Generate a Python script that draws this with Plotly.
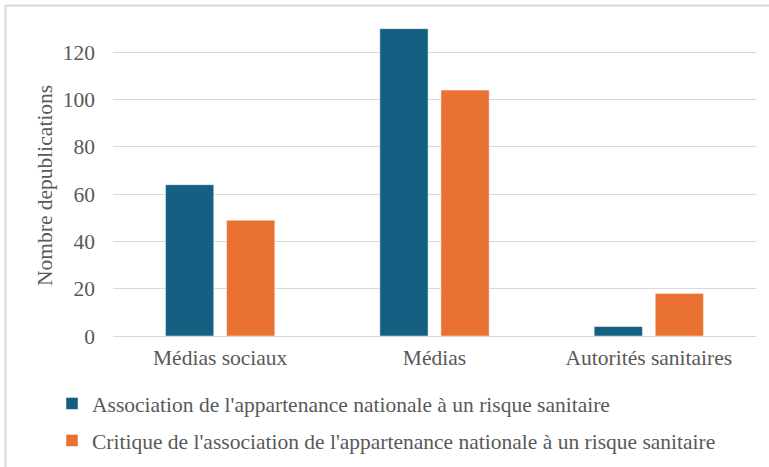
import plotly.graph_objects as go

categories = ["Médias sociaux", "Médias", "Autorités sanitaires"]
series_names = [
    "Association de l'appartenance nationale à un risque sanitaire",
    "Critique de l'association de l'appartenance nationale à un risque sanitaire",
]
assoc_values = [64, 130, 4]
critique_values = [49, 104, 18]
y_ticks = [0, 20, 40, 60, 80, 100, 120]
y_title = "Nombre depublications"

colors = ["#156082", "#E97132"]
font_family = "Liberation Serif, serif"
text_color = "#595959"
fs = 21.5

fig = go.Figure()
for i, (name, vals, col) in enumerate(zip(series_names, [assoc_values, critique_values], colors)):
    fig.add_trace(go.Bar(
        x=categories, y=vals, name=name, legendgroup=f"g{i}",
        marker=dict(color=col, line=dict(color="rgba(255,255,255,0.6)", width=0.8)),
    ))

W, H = 769, 467
L, R, T, B = 113, 13, 5, 131
pw, ph = W - L - R, H - T - B

def px_to_paper(x, y):
    return (x - L) / pw, (H - B - y) / ph

x0, y0 = px_to_paper(5.5, 5.5)
x1, y1 = px_to_paper(790, 490)
tx, ty = px_to_paper(45, 186)

fig.update_layout(
    width=W, height=H,
    margin=dict(l=L, r=R, t=T, b=B, autoexpand=False),
    paper_bgcolor="white", plot_bgcolor="white",
    font=dict(family=font_family, color=text_color, size=fs),
    barmode="group", bargap=0.43, bargroupgap=0.21,
    showlegend=True,
    legend=dict(
        orientation="v", xref="container", yref="container",
        x=52 / W, y=1 - 383 / H,
        xanchor="left", yanchor="top",
        font=dict(family=font_family, size=fs, color=text_color),
        itemwidth=30, tracegroupgap=6, bgcolor="rgba(0,0,0,0)",
    ),
    xaxis=dict(
        automargin=False,
        showgrid=False, showline=True, linecolor="#D9D9D9", linewidth=1,
        tickfont=dict(size=fs, color=text_color, family=font_family), ticks="", ticklabelstandoff=2,
    ),
    yaxis=dict(
        automargin=False,
        range=[0, 140], tickvals=y_ticks, showgrid=True, gridcolor="#D9D9D9", gridwidth=1,
        zeroline=False, showline=False, ticks="",
        tickfont=dict(size=fs, color=text_color, family=font_family), ticklabelstandoff=17,
    ),
    annotations=[dict(text=y_title, xref="paper", yref="paper", x=tx, y=ty,
                      xanchor="center", yanchor="middle", textangle=-90, showarrow=False,
                      font=dict(size=fs, color=text_color, family=font_family))],
    shapes=[dict(type="rect", xref="paper", yref="paper", x0=x0, y0=y1, x1=x1, y1=y0,
                 line=dict(color="#D9D9D9", width=2), fillcolor="rgba(0,0,0,0)", layer="below")],
)

fig.write_html("out.html", config={"displayModeBar": False},
               post_script="document.body.style.margin='0';")
